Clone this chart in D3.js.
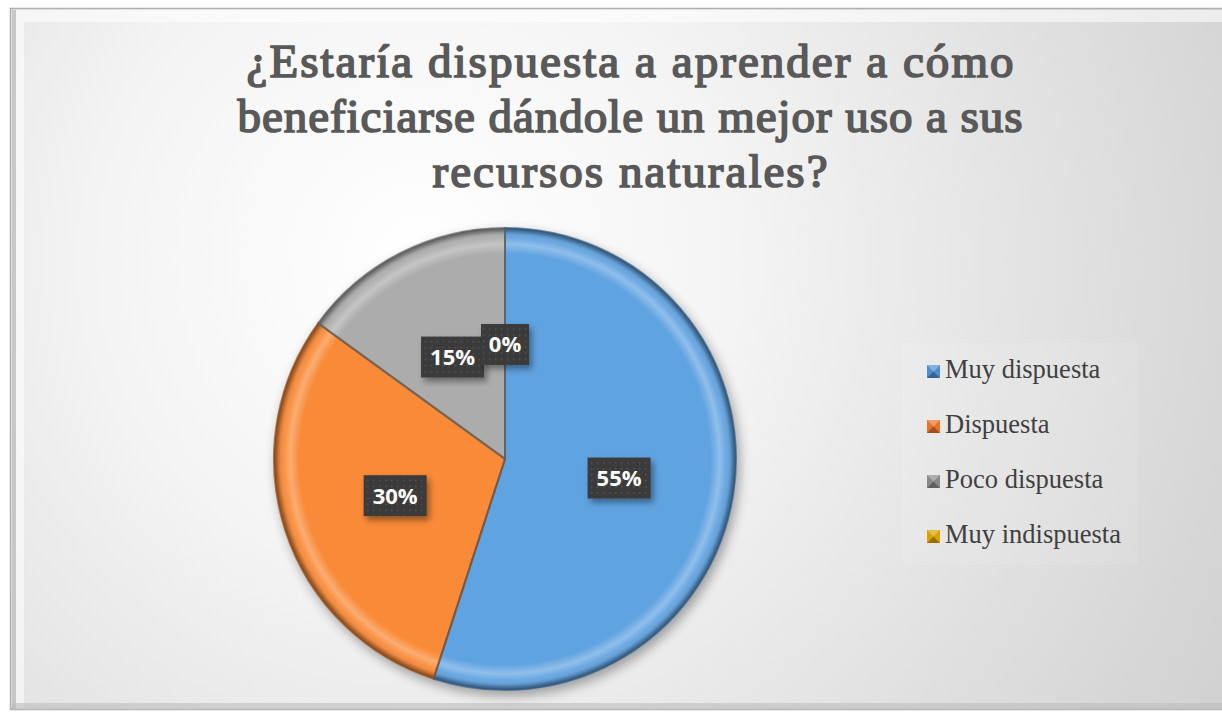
<!DOCTYPE html>
<html>
<head>
<meta charset="utf-8">
<script src="https://cdn.jsdelivr.net/npm/d3@7"></script>
<style>
  html, body { margin: 0; padding: 0; background: #ffffff; }
  svg { display: block; }
</style>
</head>
<body>
<svg id="chart"></svg>
<script>
// data
var categories = ["Muy dispuesta", "Dispuesta", "Poco dispuesta", "Muy indispuesta"];
var values = [55, 30, 15, 0];
var sliceColors = ["#61a3e1", "#f98a38", "#acacac", "#ffc000"];
var legendColors = ["#4f8fcf", "#e7732a", "#8a8a8a", "#d9a300"];
var titleLines = ["¿Estaría dispuesta a aprender a cómo",
                  "beneficiarse dándole un mejor uso a sus",
                  "recursos naturales?"];
var titleWidths = [767, 785, 395];

var serif = "Liberation Serif, Times New Roman, serif";

var W = 1222, H = 713;
var svg = d3.select("#chart").attr("width", W).attr("height", H);
var defs = svg.append("defs");

// background gradient
var bg = defs.append("radialGradient").attr("id", "bg")
    .attr("gradientUnits", "userSpaceOnUse")
    .attr("cx", 420).attr("cy", 260).attr("r", 900);
bg.append("stop").attr("offset", "0%").attr("stop-color", "#ffffff");
bg.append("stop").attr("offset", "35%").attr("stop-color", "#f4f4f4");
bg.append("stop").attr("offset", "100%").attr("stop-color", "#d2d2d2");

svg.append("rect").attr("width", W).attr("height", H).attr("fill", "#ffffff");
// chart frame
svg.append("rect")
    .attr("x", 10.5).attr("y", 8.5).attr("width", W).attr("height", 701)
    .attr("fill", "url(#bg)").attr("stroke", "#b0b0b0").attr("stroke-width", 1.5);
// bevel of the frame
svg.append("path").attr("d", "M12,10 L1222,10 L1222,22 L24,22 L24,708 L12,708 Z")
    .attr("fill", "#ffffff").attr("opacity", 0.55);
svg.append("rect").attr("x", 12).attr("y", 10).attr("width", 4).attr("height", 699)
    .attr("fill", "#a8a8a8").attr("opacity", 0.6);
svg.append("rect").attr("x", 12).attr("y", 703).attr("width", W).attr("height", 7)
    .attr("fill", "#bcbcbc").attr("opacity", 0.6);

// title: regular serif face thickened with a stroke
var title = svg.append("g");
titleLines.forEach(function(line, i) {
    title.append("text")
        .attr("x", 630).attr("y", 77 + i * 55)
        .attr("text-anchor", "middle")
        .attr("font-family", serif)
        .attr("font-size", 47)
        .attr("fill", "#595959")
        .attr("stroke", "#595959")
        .attr("stroke-width", 1.7)
        .attr("stroke-linejoin", "round")
        .attr("textLength", titleWidths[i])
        .attr("lengthAdjust", "spacing")
        .text(line);
});

// pie
var cx = 505, cy = 459, R = 231;
var pie = d3.pie().sort(null).value(function(d) { return d; });
var arcs = pie(values);
var arc = d3.arc().innerRadius(0).outerRadius(R);

var shadow = defs.append("filter").attr("id", "pieShadow")
    .attr("x", "-20%").attr("y", "-20%").attr("width", "140%").attr("height", "140%");
shadow.append("feGaussianBlur").attr("in", "SourceAlpha").attr("stdDeviation", 6).attr("result", "b");
shadow.append("feOffset").attr("in", "b").attr("dx", 3).attr("dy", 5).attr("result", "o");
shadow.append("feComponentTransfer").attr("in", "o").attr("result", "s")
    .append("feFuncA").attr("type", "linear").attr("slope", 0.35);
var fm = shadow.append("feMerge");
fm.append("feMergeNode").attr("in", "s");
fm.append("feMergeNode").attr("in", "SourceGraphic");

// rim bevel gradient
var rim = defs.append("radialGradient").attr("id", "rim")
    .attr("gradientUnits", "userSpaceOnUse")
    .attr("cx", 0).attr("cy", 0).attr("r", R);
rim.append("stop").attr("offset", "0.89").attr("stop-color", "#ffffff").attr("stop-opacity", 0);
rim.append("stop").attr("offset", "0.93").attr("stop-color", "#ffffff").attr("stop-opacity", 0.3);
rim.append("stop").attr("offset", "0.96").attr("stop-color", "#ffffff").attr("stop-opacity", 0.05);
rim.append("stop").attr("offset", "0.985").attr("stop-color", "#000000").attr("stop-opacity", 0.25);
rim.append("stop").attr("offset", "1").attr("stop-color", "#000000").attr("stop-opacity", 0.5);

var g = svg.append("g").attr("transform", "translate(" + cx + "," + cy + ")");
var pieG = g.append("g").attr("filter", "url(#pieShadow)");
pieG.selectAll("path.slice").data(arcs).enter().append("path")
    .attr("class", "slice")
    .attr("d", arc)
    .attr("fill", function(d, i) { return sliceColors[i]; });
pieG.selectAll("path.rim").data(arcs).enter().append("path")
    .attr("class", "rim")
    .attr("d", arc)
    .attr("fill", "url(#rim)");
// dark edges between slices
pieG.selectAll("path.edge").data(arcs).enter().append("path")
    .attr("class", "edge")
    .attr("d", arc)
    .attr("fill", "none")
    .attr("stroke", function(d, i) { return d3.color(sliceColors[i]).darker(1.6); })
    .attr("stroke-width", function(d) { return d.data === 0 ? 0 : 2; })
    .attr("stroke-opacity", 0.7);

// label boxes with dotted texture
var pat = defs.append("pattern").attr("id", "dots")
    .attr("width", 6).attr("height", 6).attr("patternUnits", "userSpaceOnUse");
pat.append("rect").attr("width", 6).attr("height", 6).attr("fill", "#3b3b3b");
pat.append("rect").attr("x", 2).attr("y", 2).attr("width", 1.3).attr("height", 1.3).attr("fill", "#5a5a5a");

var lblShadow = defs.append("filter").attr("id", "lblShadow")
    .attr("x", "-30%").attr("y", "-30%").attr("width", "170%").attr("height", "170%");
lblShadow.append("feDropShadow").attr("dx", 3).attr("dy", 4).attr("stdDeviation", 3)
    .attr("flood-color", "#000").attr("flood-opacity", 0.4);

var labelArc = d3.arc().innerRadius(0).outerRadius(R);
var labels = g.selectAll("g.lbl").data(arcs).enter().append("g")
    .attr("class", "lbl")
    .attr("transform", function(d) {
        var c = labelArc.centroid(d);
        return "translate(" + c[0] + "," + (c[1] + 1) + ")";
    });
labels.each(function(d) {
    var sel = d3.select(this);
    var txt = d.data + "%";
    var bw = txt.length === 2 ? 48 : 63, bh = 41;
    sel.append("rect")
        .attr("x", -bw / 2).attr("y", -bh / 2).attr("width", bw).attr("height", bh)
        .attr("fill", "url(#dots)").attr("filter", "url(#lblShadow)");
    sel.append("text")
        .attr("text-anchor", "middle").attr("dy", "0.36em")
        .style("font-family", "'Open Sans', 'Liberation Sans', sans-serif")
        .style("font-weight", "bold").style("font-size", "22px")
        .attr("fill", "#ffffff")
        .text(txt);
});

// legend
svg.append("rect")
    .attr("x", 902).attr("y", 343).attr("width", 236).attr("height", 222)
    .attr("fill", "#ffffff").attr("opacity", 0.1);
var legend = svg.append("g").attr("transform", "translate(927,0)");
var items = legend.selectAll("g").data(categories).enter().append("g")
    .attr("transform", function(d, i) { return "translate(0," + (378 + i * 55) + ")"; });
items.append("rect")
    .attr("x", 0).attr("y", -13).attr("width", 13).attr("height", 13)
    .attr("fill", function(d, i) { return legendColors[i]; });
items.append("path")
    .attr("d", "M0,-13 L13,-13 L6.5,-6.5 Z")
    .attr("fill", "#ffffff").attr("opacity", 0.3);
items.append("path")
    .attr("d", "M0,0 L13,0 L6.5,-6.5 Z")
    .attr("fill", "#000000").attr("opacity", 0.3);
items.append("text")
    .attr("x", 18).attr("y", 0)
    .attr("font-family", serif)
    .attr("font-size", 26.5)
    .attr("fill", "#404040")
    .text(function(d) { return d; });
</script>
</body>
</html>
